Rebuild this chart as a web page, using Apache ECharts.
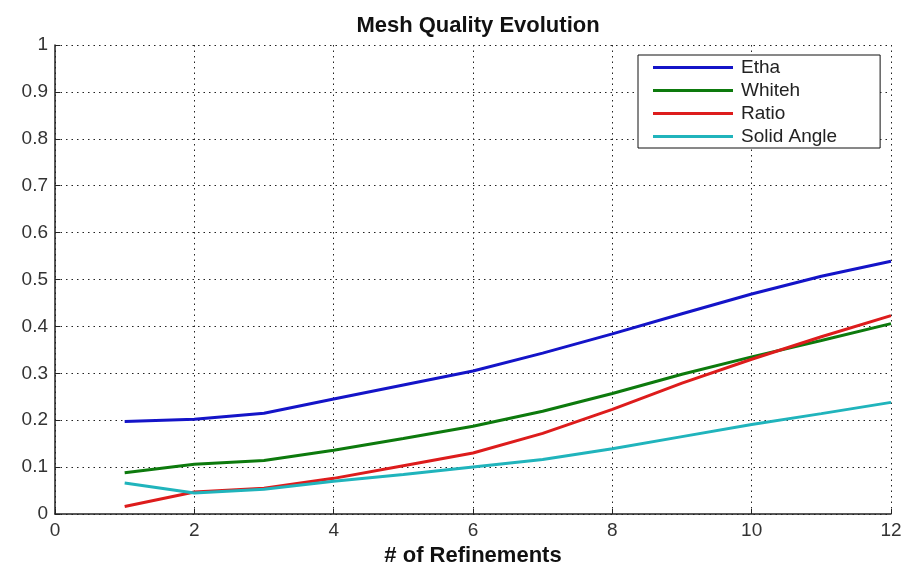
<!DOCTYPE html>
<html>
<head>
<meta charset="utf-8">
<title>Mesh Quality Evolution</title>
<script src="https://cdn.jsdelivr.net/npm/echarts@6/dist/echarts.min.js"></script>
<style>
  html, body { margin: 0; padding: 0; background: #fff; }
  #chart { width: 907px; height: 565px; }
</style>
</head>
<body>
<div id="chart"></div>
<script>
// refinement steps
const refinements = [1, 2, 3, 4, 5, 6, 7, 8, 9, 10, 11, 12]

// quality values
const etha = [0.197, 0.202, 0.215, 0.245, 0.275, 0.305, 0.343, 0.384, 0.427, 0.469, 0.507, 0.539]
const whiteh = [0.088, 0.106, 0.114, 0.136, 0.161, 0.187, 0.219, 0.257, 0.298, 0.335, 0.370, 0.406]
const ratio = [0.016, 0.047, 0.055, 0.076, 0.103, 0.130, 0.172, 0.223, 0.279, 0.330, 0.378, 0.423]
const solidAngle = [0.066, 0.045, 0.053, 0.070, 0.084, 0.100, 0.116, 0.139, 0.165, 0.191, 0.214, 0.238]

const seriesNames = ['Etha', 'Whiteh', 'Ratio', 'Solid Angle']
const seriesColors = ['#1414c8', '#0d7a0d', '#dd1c1c', '#20b4bc']

const toPoints = (vals) => refinements.map((x, i) => [x, vals[i]])

const chart = echarts.init(document.getElementById('chart'))

const dotted = { color: '#222', width: 1, type: [1.5, 4] }

chart.setOption({
  animation: false,
  backgroundColor: '#fff',
  title: {
    text: 'Mesh Quality Evolution',
    left: 473,
    top: 10,
    textAlign: 'center',
    textStyle: {
      fontFamily: 'Liberation Sans',
      fontSize: 22,
      fontWeight: 'bold',
      color: '#111'
    }
  },
  legend: {
    orient: 'vertical',
    left: 638,
    top: 55,
    padding: [3, 43, 2, 15],
    itemGap: 4,
    itemWidth: 80,
    itemHeight: 3,
    icon: 'rect',
    borderColor: '#111',
    borderWidth: 1,
    backgroundColor: '#fff',
    textStyle: {
      fontFamily: 'Liberation Sans',
      fontSize: 19,
      color: '#222',
      padding: [0, 0, 0, 3]
    },
    data: seriesNames
  },
  grid: {
    left: 55,
    right: 16,
    top: 45,
    bottom: 51,
    outerBoundsMode: 'none'
  },
  xAxis: {
    type: 'value',
    min: 0,
    max: 12,
    interval: 2,
    name: '# of Refinements',
    nameLocation: 'middle',
    nameGap: 20,
    nameTextStyle: {
      fontFamily: 'Liberation Sans',
      fontSize: 22,
      fontWeight: 'bold',
      color: '#111'
    },
    axisLine: { lineStyle: { color: '#222', width: 1.5 } },
    axisTick: { inside: true, length: 5, lineStyle: { color: '#222' } },
    axisLabel: {
      margin: 7,
      fontFamily: 'Liberation Sans',
      fontSize: 19,
      color: '#333'
    },
    splitLine: { show: true, lineStyle: dotted }
  },
  yAxis: {
    type: 'value',
    min: 0,
    max: 1,
    interval: 0.1,
    axisLine: { show: true, lineStyle: { color: '#222', width: 1.5 } },
    axisTick: { show: true, inside: true, length: 5, lineStyle: { color: '#222' } },
    axisLabel: {
      margin: 7,
      fontFamily: 'Liberation Sans',
      fontSize: 19,
      color: '#333'
    },
    splitLine: { show: true, lineStyle: dotted }
  },
  series: [etha, whiteh, ratio, solidAngle].map((vals, i) => ({
    name: seriesNames[i],
    type: 'line',
    data: toPoints(vals),
    showSymbol: false,
    symbol: 'none',
    color: seriesColors[i],
    lineStyle: { width: 3, color: seriesColors[i] }
  }))
})
</script>
</body>
</html>
